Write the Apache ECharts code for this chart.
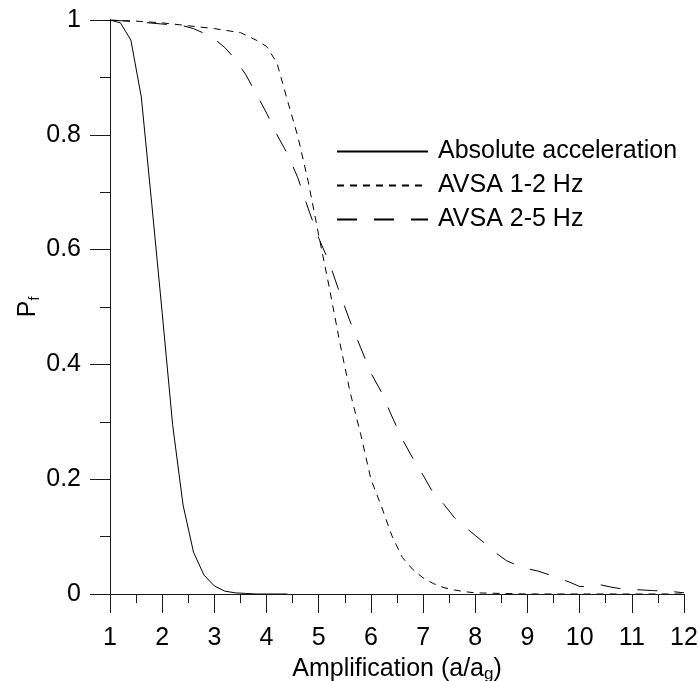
<!DOCTYPE html>
<html>
<head>
<meta charset="utf-8">
<script src="https://cdn.jsdelivr.net/npm/echarts@6/dist/echarts.min.js"></script>
<style>
html, body { margin: 0; padding: 0; background: #ffffff; }
#chart { width: 699px; height: 681px; }
</style>
</head>
<body>
<div id="chart"></div>
<script>
//数据
const seriesNames = ['Absolute acceleration', 'AVSA 1-2 Hz', 'AVSA 2-5 Hz'];

const absX = [1, 1.2, 1.4, 1.6, 1.8, 2.0, 2.2, 2.4, 2.6, 2.8, 3.0, 3.2, 3.4, 3.6, 3.8, 4.0, 4.2, 4.4];
const absY = [1, 0.995, 0.965, 0.866, 0.68, 0.49, 0.295, 0.155, 0.073, 0.033, 0.014, 0.005, 0.002, 0.001, 0, 0, 0, 0];

const avsa12X = [1, 1.5, 2, 2.5, 3, 3.5, 3.8, 4, 4.2, 4.4, 4.6, 4.8, 5, 5.2, 5.4, 5.6, 5.8, 6, 6.2, 6.4, 6.6, 6.8, 7, 7.2, 7.4, 7.6, 7.8, 8, 8.5, 9, 10, 11, 12];
const avsa12Y = [1, 0.998, 0.995, 0.99, 0.985, 0.978, 0.965, 0.954, 0.925, 0.86, 0.797, 0.718, 0.625, 0.535, 0.44, 0.352, 0.28, 0.2, 0.153, 0.102, 0.064, 0.043, 0.028, 0.018, 0.011, 0.007, 0.004, 0.002, 0.001, 0, 0, 0, 0];

const avsa25X = [1, 1.5, 2, 2.4, 2.6, 2.8, 3.0, 3.2, 3.4, 3.6, 3.8, 4.0, 4.2, 4.4, 4.6, 4.8, 5.0, 5.2, 5.4, 5.6, 5.8, 6.0, 6.2, 6.4, 6.6, 6.8, 7.0, 7.2, 7.4, 7.6, 7.8, 8.0, 8.2, 8.4, 8.6, 8.8, 9.0, 9.2, 9.4, 9.6, 9.8, 10.0, 10.2, 10.4, 10.6, 10.8, 11.0, 11.4, 11.8, 12];
const avsa25Y = [1, 0.997, 0.993, 0.99, 0.985, 0.977, 0.967, 0.952, 0.932, 0.905, 0.872, 0.838, 0.8, 0.767, 0.725, 0.671, 0.62, 0.578, 0.525, 0.475, 0.43, 0.385, 0.352, 0.31, 0.27, 0.237, 0.207, 0.175, 0.156, 0.133, 0.117, 0.102, 0.087, 0.071, 0.058, 0.05, 0.044, 0.04, 0.034, 0.027, 0.021, 0.013, 0.013, 0.016, 0.012, 0.009, 0.008, 0.006, 0.004, 0.002];

//组合成点对
function Pairs(xs, ys) {
    let data = [];
    for (let i = 0; i < xs.length; i++) {
        data.push([xs[i], ys[i]]);
    }
    return data;
}

const fontName = '"Liberation Sans", Arial, sans-serif';
const axisColor = '#1a1a1a';

let chart = echarts.init(document.getElementById('chart'), null, {renderer: 'canvas'});

let option = {
    animation: false,
    backgroundColor: '#ffffff',
    textStyle: {
        fontFamily: fontName,
        color: '#000'
    },
    grid: {
        left: 110,
        right: 15,
        top: 20,
        bottom: 87,
        containLabel: false,
        outerBoundsMode: 'none'
    },
    legend: {
        orient: 'vertical',
        left: 336,
        top: 139,
        padding: 0,
        itemWidth: 91,
        itemHeight: 12,
        itemGap: 9,
        itemStyle: {opacity: 0},
        textStyle: {
            fontFamily: fontName,
            fontSize: 25,
            color: '#000',
            padding: [0, 0, 0, 5]
        },
        data: seriesNames
    },
    xAxis: {
        type: 'value',
        min: 1,
        max: 12,
        interval: 1,
        name: '{a|Amplification (a/a}{b|g}{a|)}',
        nameLocation: 'middle',
        nameGap: 61,
        nameMoveOverlap: false,
        nameTextStyle: {
            rich: {
                a: {fontFamily: fontName, fontSize: 25, color: '#000', lineHeight: 28},
                b: {fontFamily: fontName, fontSize: 17, color: '#000', verticalAlign: 'bottom', lineHeight: 22}
            }
        },
        splitLine: {show: false},
        axisLine: {onZero: false, lineStyle: {color: axisColor, width: 1}},
        axisTick: {length: 19, lineStyle: {color: axisColor}},
        minorTick: {show: true, splitNumber: 2, length: 9, lineStyle: {color: axisColor}},
        axisLabel: {
            margin: 32,
            fontSize: 25,
            fontFamily: fontName,
            color: '#000'
        }
    },
    yAxis: {
        type: 'value',
        min: 0,
        max: 1,
        interval: 0.2,
        name: '{a|P}{b|f}',
        nameLocation: 'middle',
        nameGap: 68,
        nameRotate: 90,
        nameMoveOverlap: false,
        nameTextStyle: {
            rich: {
                a: {fontFamily: fontName, fontSize: 25, color: '#000', lineHeight: 28},
                b: {fontFamily: fontName, fontSize: 14, color: '#000', verticalAlign: 'bottom', lineHeight: 22}
            }
        },
        splitLine: {show: false},
        axisLine: {onZero: false, lineStyle: {color: axisColor, width: 1}},
        axisTick: {length: 20, lineStyle: {color: axisColor}},
        minorTick: {show: true, splitNumber: 2, length: 10, lineStyle: {color: axisColor}},
        axisLabel: {
            margin: 29,
            fontSize: 25,
            fontFamily: fontName,
            color: '#000'
        }
    },
    series: [{
        name: seriesNames[0],
        type: 'line',
        symbol: 'none',
        lineStyle: {color: '#000', width: 1, type: 'solid'},
        itemStyle: {color: '#000'},
        data: Pairs(absX, absY)
    }, {
        name: seriesNames[1],
        type: 'line',
        symbol: 'none',
        lineStyle: {color: '#000', width: 1, type: [7, 6]},
        itemStyle: {color: '#000'},
        data: Pairs(avsa12X, avsa12Y)
    }, {
        name: seriesNames[2],
        type: 'line',
        symbol: 'none',
        lineStyle: {color: '#000', width: 1, type: [20, 17]},
        itemStyle: {color: '#000'},
        data: Pairs(avsa25X, avsa25Y)
    }]
};

chart.setOption(option);
</script>
</body>
</html>
